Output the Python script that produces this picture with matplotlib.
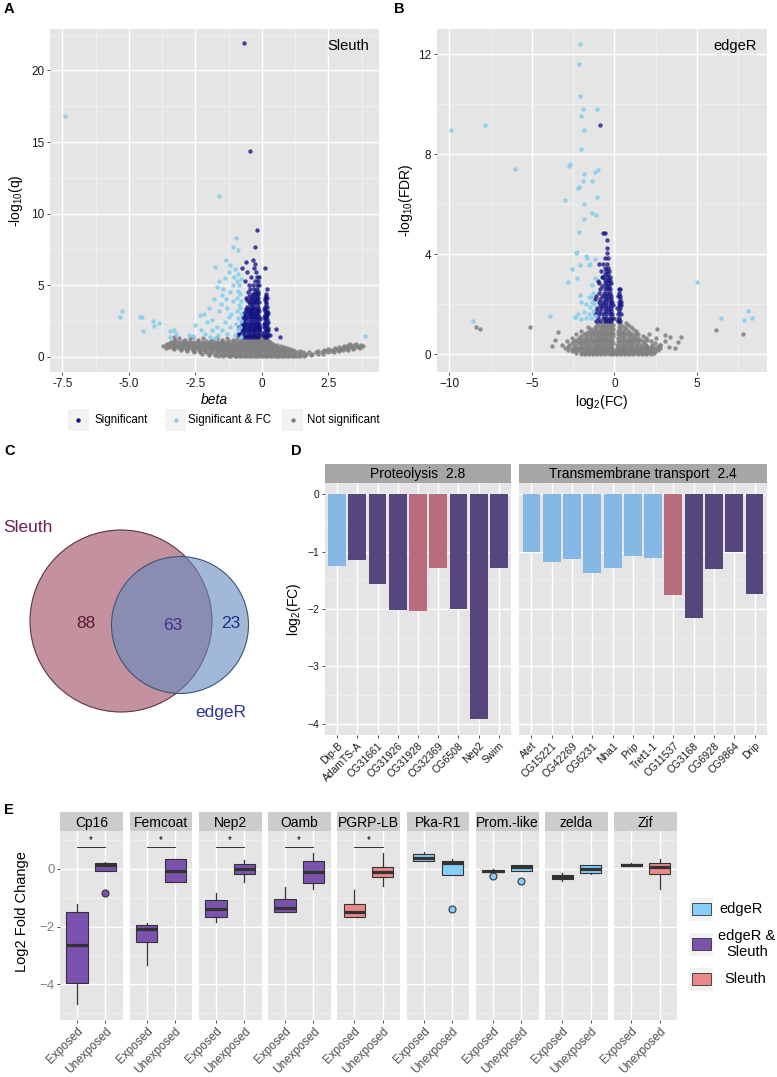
import matplotlib
matplotlib.use('Agg')
import matplotlib.pyplot as plt
from matplotlib.patches import Circle, Rectangle

plt.rcParams['font.family'] = ['Liberation Sans', 'DejaVu Sans']
plt.rcParams['mathtext.default'] = 'regular'

W, H = 777, 1077

# ---------------- panel A : sleuth volcano (beta, -log10 q) ----------------
sleuth_ns_levels = [0.02, 0.15, 0.3, 0.45, 0.6, 0.75, 0.9, 1.05, 1.2, 1.35, 1.5,
                    0.08, 0.22, 0.38, 0.52, 0.68, 0.82, 0.97, 1.12, 1.28, 1.42]
sleuth_ns_xrows = [
    [-1.25, -1.02, -0.85, -0.66, -0.48, -0.31, -0.14, 0.05, 0.21, 0.38, 0.57, 0.74, 0.93, 1.12, 1.31],
    [-2.0, -1.78, -1.55, -1.36, -1.14, -0.95, -0.77, -0.58, -0.4, -0.22, -0.05, 0.13, 0.3, 0.47, 0.66,
     0.84, 1.03, 1.22, 1.42, 1.63, 1.85],
    [-2.55, -2.33, -2.1, -1.9, -1.69, -1.47, -1.28, -1.07, -0.88, -0.69, -0.5, -0.33, -0.16, 0.02, 0.2,
     0.37, 0.55, 0.73, 0.92, 1.1, 1.33, 1.55, 1.78, 2.02, 2.25, 2.5, 2.7],
    [-3.05, -2.8, -2.6, -2.37, -2.17, -1.95, -1.73, -1.52, -1.3, -1.11, -0.91, -0.72, -0.55, -0.36, -0.19,
     0.0, 0.18, 0.35, 0.53, 0.74, 0.95, 1.17, 2.35, 2.6, 2.85, 3.05, 3.25],
    [-3.6, -3.35, -3.12, -2.9, -2.67, -2.45, -2.22, -2.0, -1.79, -1.57, -1.36, -1.15, -0.96, -0.77, -0.58,
     -0.4, -0.22, -0.03, 0.15, 0.33, 0.52, 0.72, 0.93, 2.75, 3.0, 3.2, 3.45, 3.7],
    [-3.7, -3.45, -3.2, -2.98, -2.75, -2.5, -2.28, -2.05, -1.83, -1.6, -1.4, -1.18, -0.98, -0.8, -0.62,
     -0.43, -0.25, -0.07, 0.12, 0.3, 0.5, 0.7, 3.1, 3.35, 3.6, 3.8],
    [-3.55, -3.3, -3.05, -2.8, -2.57, -2.33, -2.1, -1.85, -1.6, -1.38, -1.15, -0.92, -0.72, -0.52, -0.33,
     -0.15, 0.05, 0.22, 0.42, 3.3, 3.55],
    [-3.4, -3.1, -2.85, -2.55, -2.25, -1.95, -1.65, -1.35, -1.08, -0.85, -0.63, -0.43, -0.24, -0.06, 0.13, 0.3],
    [-3.25, -2.9, -2.4, -1.9, -1.5, -1.1, -0.8, -0.55, -0.35, -0.17, 0.02, 0.2],
    [-3.3, -2.6, -0.6, -0.4, -0.22, -0.05, 0.12],
    [-0.35, -0.15, 0.05],
    [-1.65, -1.45, -1.2, -0.98, -0.78, -0.58, -0.4, -0.22, -0.04, 0.14, 0.31, 0.48, 0.66, 0.84, 1.03, 1.22,
     1.42, 1.6],
    [-2.25, -2.0, -1.78, -1.57, -1.37, -1.17, -0.97, -0.78, -0.6, -0.42, -0.24, -0.06, 0.11, 0.28, 0.46,
     0.64, 0.83, 1.02, 1.22, 1.44, 1.66, 1.88, 2.12, 2.3],
    [-2.8, -2.56, -2.32, -2.1, -1.88, -1.66, -1.45, -1.24, -1.04, -0.84, -0.64, -0.45, -0.27, -0.09, 0.1,
     0.28, 0.46, 0.64, 0.83, 1.02, 1.22, 1.45, 2.1, 2.38, 2.62, 2.88],
    [-3.3, -3.05, -2.82, -2.58, -2.35, -2.12, -1.9, -1.68, -1.47, -1.26, -1.05, -0.86, -0.66, -0.47, -0.29,
     -0.1, 0.08, 0.26, 0.44, 0.63, 0.84, 1.05, 2.5, 2.75, 2.98, 3.2, 3.42],
    [-3.5, -3.25, -3.0, -2.78, -2.55, -2.32, -2.1, -1.88, -1.67, -1.46, -1.25, -1.05, -0.86, -0.68, -0.5,
     -0.31, -0.13, 0.06, 0.24, 0.42, 0.62, 0.82, 2.9, 3.12, 3.36, 3.6],
    [-3.62, -3.35, -3.1, -2.87, -2.63, -2.4, -2.17, -1.95, -1.72, -1.5, -1.28, -1.07, -0.88, -0.7, -0.52,
     -0.34, -0.16, 0.02, 0.2, 0.38, 0.58, 3.22, 3.46, 3.72],
    [-3.45, -3.2, -2.95, -2.7, -2.45, -2.2, -1.97, -1.73, -1.5, -1.27, -1.04, -0.82, -0.62, -0.42, -0.24,
     -0.06, 0.13, 0.32],
    [-3.3, -2.98, -2.7, -2.4, -2.1, -1.8, -1.5, -1.22, -0.96, -0.74, -0.53, -0.33, -0.15, 0.04, 0.22],
    [-3.1, -2.7, -2.2, -1.7, -1.3, -0.95, -0.7, -0.48, -0.28, -0.1, 0.1],
    [-0.5, -0.3, -0.12, 0.08],
]

sleuth_sig_levels = [1.4, 1.7, 2.0, 2.3, 2.6, 2.9, 3.2, 3.5, 3.8, 4.1, 4.4, 4.7, 5.0, 5.3, 5.6, 5.9, 6.2, 6.5,
                     1.55, 1.85, 2.15, 2.45, 2.75, 3.05, 3.35, 3.65, 3.95, 4.25, 4.55]
sleuth_sig_xrows = [
    [-0.72, -0.6, -0.48, -0.36, -0.25, -0.14, 0.1, 0.2],
    [-0.78, -0.66, -0.54, -0.42, -0.3, -0.19, -0.08, 0.08, 0.18],
    [-0.75, -0.63, -0.5, -0.38, -0.27, -0.15, -0.06, 0.12, 0.22],
    [-0.7, -0.58, -0.45, -0.33, -0.22, -0.1, 0.09, 0.19],
    [-0.67, -0.55, -0.42, -0.3, -0.18, -0.08, 0.13, 0.21],
    [-0.62, -0.5, -0.38, -0.26, -0.15, 0.1, 0.2],
    [-0.58, -0.45, -0.32, -0.2, -0.1, 0.12, 0.18],
    [-0.55, -0.4, -0.28, -0.16, 0.1, 0.2],
    [-0.5, -0.35, -0.22, -0.12, 0.14],
    [-0.6, -0.42, -0.27, -0.15, 0.11, 0.18],
    [-0.38, -0.24, -0.13, 0.15],
    [-0.45, -0.3, -0.18, 0.19],
    [-0.5, -0.33, -0.2, -0.12],
    [-0.62, -0.27, -0.15],
    [-0.4, -0.2, -0.1],
    [-0.55, -0.22],
    [-0.75, -0.3, 0.12],
    [-0.25],
    [-0.85, -0.69, -0.57, -0.44, -0.33, -0.21, -0.1, 0.06, 0.15, 0.24],
    [-0.72, -0.6, -0.47, -0.35, -0.24, -0.12, 0.14, 0.23],
    [-0.8, -0.68, -0.56, -0.43, -0.31, -0.2, -0.09, 0.07, 0.16],
    [-0.74, -0.62, -0.5, -0.38, -0.26, -0.14, 0.11, 0.22],
    [-0.7, -0.58, -0.46, -0.34, -0.22, -0.11, 0.08, 0.17],
    [-0.66, -0.54, -0.42, -0.3, -0.18, 0.14, 0.22],
    [-0.6, -0.48, -0.36, -0.24, -0.13, 0.09],
    [-0.45, -0.32, -0.19, 0.17],
    [-0.55, -0.4, -0.28, -0.17, 0.12],
    [-0.48, -0.33, -0.2, 0.16],
    [-0.52, -0.27, -0.14],
]
sleuth_sig_extra_x = [-0.69, -0.45, -0.2, -0.24, -0.6, -0.33, 0.54, 0.69, 0.3, -0.85, -0.9]
sleuth_sig_extra_y = [21.9, 14.4, 8.88, 7.65, 6.6, 6.75, 1.94, 1.36, 1.5, 2.1, 1.6]

sleuth_fc_x = [-2.31, -2.16, -2.05, -1.87, -2.57, -2.13, -1.89, -1.76, -1.95, -1.7, -1.6, -1.55, -1.5,
               -1.45, -1.6, -1.4, -1.35, -1.3, -1.25, -1.4, -1.5, -1.3, -1.2, -1.15, -1.1, -1.2, -1.1,
               -1.05, -1.25, -1.0, -0.95, -0.9, -0.95, -0.85, -0.95, -0.88, -0.98, -0.9, -1.0, -0.8,
               -0.82, -0.8, -0.78, -0.83, -0.8, -0.82, -0.85, -0.8, -0.9, -1.35, -1.76, -0.98, -1.08,
               -0.89, -1.6, -7.4, -5.24, -5.33, -4.58, -4.5, -4.1, -3.87, -4.04, -4.47, -3.44, -3.3,
               -3.22, -3.45, 3.88, -1.65, -2.3, -2.0, -1.8, -1.7, -1.2, -2.75, -2.5]
sleuth_fc_y = [2.9, 2.96, 2.4, 2.57, 1.45, 1.57, 1.87, 1.28, 1.35, 2.1, 3.2, 3.7, 4.3,
               4.7, 5.3, 5.5, 4.0, 3.4, 2.8, 2.4, 1.9, 1.6, 2.1, 3.0, 3.9, 4.5, 5.0,
               5.6, 5.9, 6.1, 5.3, 4.6, 4.1, 3.6, 3.2, 2.7, 2.3, 1.9, 1.5, 1.4,
               2.1, 2.5, 3.0, 3.4, 3.9, 4.4, 5.0, 5.4, 5.8, 6.74, 6.29, 8.32, 7.67,
               7.46, 11.26, 16.8, 3.2, 2.8, 2.75, 2.75, 2.5, 2.38, 2.15, 1.8, 1.8, 1.87,
               1.57, 1.36, 1.45, 1.5, 1.9, 3.4, 4.0, 4.9, 6.4, 1.5, 2.2]

# ---------------- panel B : edgeR volcano (log2FC, -log10 FDR) ----------------
edger_ns_levels = [0.0, 0.12, 0.25, 0.38, 0.52, 0.66, 0.8, 0.95, 1.1, 1.25,
                   0.06, 0.19, 0.31, 0.45, 0.59, 0.73, 0.87, 1.02, 1.17, 1.4]
edger_ns_xrows = [
    [-2.05, -1.8, -1.55, -1.3, -1.05, -0.8, -0.55, -0.3, -0.08, 0.15, 0.4, 0.65, 0.9, 1.15, 1.4, 1.65, 1.9, 2.2],
    [-2.6, -2.3, -2.0, -1.72, -1.45, -1.2, -0.95, -0.7, -0.45, -0.2, 0.1, 0.35, 0.6, 0.85, 1.1, 1.38,
     1.62, 1.9, 2.15, 2.45],
    [-3.0, -2.6, -2.25, -1.95, -1.65, -1.38, -1.12, -0.86, -0.6, -0.36, -0.12, 0.15, 0.4, 0.66, 0.92,
     1.2, 1.48, 1.75, 2.05, 2.4, 2.75],
    [-3.2, -2.75, -2.4, -2.05, -1.75, -1.47, -1.2, -0.95, -0.7, -0.45, -0.2, 0.18, 0.45, 0.72, 1.0,
     1.28, 1.58, 1.9, 2.3, 2.75],
    [-2.9, -2.45, -2.1, -1.8, -1.5, -1.25, -1.0, -0.75, -0.5, -0.25, 0.2, 0.48, 0.75, 1.05, 1.35, 1.7, 2.2, 3.05],
    [-2.6, -2.15, -1.8, -1.5, -1.2, -0.95, -0.7, -0.45, -0.2, 0.22, 0.5, 0.8, 1.1, 1.45, 1.9, 2.5],
    [-2.3, -1.85, -1.5, -1.2, -0.95, -0.7, -0.45, -0.2, 0.2, 0.45, 0.75, 1.05, 1.45, 2.1],
    [-2.0, -1.55, -1.25, -0.95, -0.7, -0.45, -0.2, 0.22, 0.5, 0.85, 1.3],
    [-1.6, -1.2, -0.9, -0.65, -0.4, -0.18, 0.25, 0.55, 1.0],
    [-1.0, -0.7, -0.45, -0.2, 0.3, 0.7],
    [-2.3, -1.92, -1.67, -1.42, -1.17, -0.92, -0.67, -0.42, -0.18, 0.03, 0.28, 0.52, 0.78, 1.02, 1.27,
     1.52, 1.78, 2.05, 2.4],
    [-2.8, -2.45, -2.15, -1.86, -1.58, -1.32, -1.07, -0.82, -0.57, -0.32, -0.07, 0.22, 0.48, 0.72, 0.98,
     1.25, 1.5, 1.76, 2.02, 2.3, 2.65],
    [-2.8, -2.42, -2.1, -1.8, -1.52, -1.25, -0.99, -0.73, -0.48, -0.24, 0.28, 0.53, 0.8, 1.06, 1.34,
     1.62, 1.9, 2.2, 2.55],
    [-2.55, -2.22, -1.9, -1.6, -1.33, -1.08, -0.82, -0.57, -0.32, -0.1, 0.3, 0.6, 0.88, 1.15, 1.45, 1.8, 2.45],
    [-2.35, -1.97, -1.65, -1.35, -1.1, -0.85, -0.6, -0.35, -0.12, 0.33, 0.62, 0.92, 1.25, 1.55, 2.0],
    [-2.0, -1.65, -1.35, -1.08, -0.82, -0.57, -0.33, -0.1, 0.32, 0.6, 0.92, 1.25, 1.7],
    [-1.75, -1.35, -1.08, -0.82, -0.57, -0.33, -0.1, 0.32, 0.6, 0.95, 1.3],
    [-1.4, -1.1, -0.8, -0.55, -0.3, -0.08, 0.35, 0.7, 1.1],
    [-1.05, -0.78, -0.52, -0.3, -0.08, 0.4, 0.8],
    [-0.6, -0.35, -0.12, 0.12],
]
edger_ns_extra_x = [-8.4, -8.16, -5.13, 6.14, 7.76, -3.62, -3.78, 3.05, 3.35, 4.02, 3.86, 3.65, 2.75,
                    1.94, -3.4, 2.6, 3.3]
edger_ns_extra_y = [1.08, 1.01, 1.08, 0.96, 0.8, 0.57, 0.33, 0.77, 0.7, 0.7, 0.5, 0.24, 0.37,
                    0.34, 0.9, 1.0, 0.3]

edger_sig_levels = [1.35, 1.6, 1.85, 2.1, 2.35, 2.6, 2.85, 3.1, 3.35, 3.6, 3.85, 4.04, 4.24, 4.57, 4.84,
                    1.47, 1.72, 1.97, 2.22, 2.47, 2.72, 2.97, 3.22, 3.47]
edger_sig_xrows = [
    [-1.1, -0.85, -0.6, -0.4, -0.2, 0.2, 0.35],
    [-1.2, -0.95, -0.7, -0.5, -0.3, -0.12, 0.22, 0.4],
    [-1.05, -0.8, -0.6, -0.4, -0.2, 0.18, 0.33],
    [-0.95, -0.7, -0.5, -0.3, -0.15, 0.25, 0.4],
    [-1.1, -0.75, -0.55, -0.38, -0.2, 0.2, 0.35],
    [-0.85, -0.6, -0.42, -0.25, 0.26, 0.36],
    [-0.95, -0.55, -0.4, -0.22],
    [-0.7, -0.48, -0.3],
    [-0.8, -0.5, -0.35],
    [-0.95, -0.69, -0.45],
    [-0.6, -0.4],
    [-0.44],
    [-0.44],
    [-0.48],
    [-0.59, -0.69],
    [-1.0, -0.72, -0.5, -0.3, -0.1, 0.28],
    [-1.1, -0.85, -0.6, -0.4, -0.2, 0.3],
    [-0.9, -0.7, -0.5, -0.3, -0.1, 0.26, 0.42],
    [-1.15, -0.85, -0.6, -0.4, -0.22, 0.32],
    [-0.95, -0.65, -0.47, -0.3, 0.3],
    [-0.75, -0.5, -0.33],
    [-0.6, -0.42, -0.25],
    [-0.55, -0.38],
    [-0.6, -0.4],
]
edger_sig_extra_x = [-0.87, -0.75, -1.0]
edger_sig_extra_y = [9.18, 3.1, 2.95]

edger_fc_x = [-9.88, -7.84, -6.0, -2.06, -2.16, -2.08, -1.92, -2.02, -1.07, -1.82, -2.04, -2.67, -2.73,
              -1.86, -1.17, -0.99, -1.88, -1.35, -2.18, -2.14, -2.97, -1.82, -1.07, -1.38, -1.13, -1.84,
              -2.16, -2.35, -2.26, -1.74, -1.66, -1.15, -2.06, -1.52, -1.47, -2.55, -2.24, -2.81, -1.15,
              -1.38, -2.06, -1.45, 5.01, 8.08, 6.48, 8.34, 7.84, -3.92, -8.56, -2.42,
              -2.4, -2.2, -2.0, -1.85, -1.7, -1.55, -1.4, -1.3, -1.5, -1.7, -1.35, -1.55, -1.3, -2.0,
              -1.2, -1.25]
edger_fc_y = [8.96, 9.16, 7.41, 12.42, 11.62, 10.32, 9.82, 9.52, 9.82, 8.98, 8.22, 7.6, 7.53,
              7.21, 7.3, 7.36, 6.93, 6.93, 6.64, 6.7, 6.18, 6.02, 6.29, 5.64, 5.57, 5.42,
              4.9, 4.04, 4.08, 3.94, 3.84, 3.8, 3.57, 3.57, 3.61, 3.4, 3.05, 2.88, 3.06,
              2.77, 2.36, 2.3, 2.88, 1.75, 1.45, 1.45, 1.37, 1.53, 1.34, 1.48,
              1.5, 1.6, 1.4, 1.7, 1.45, 1.6, 1.45, 1.75, 1.9, 2.0, 2.1, 2.3, 2.45, 2.1,
              1.55, 2.0]

# ---------------- panel C : venn counts ----------------
venn_counts = [88, 63, 23]   # sleuth only, both, edgeR only

# ---------------- panel D : GO term bars ----------------
proteo_genes = ['Dip-B', 'AdamTS-A', 'CG31661', 'CG31926', 'CG31928', 'CG32369', 'CG6508', 'Nep2', 'Swim']
proteo_fc = [-1.25, -1.15, -1.57, -2.01, -2.03, -1.28, -2.0, -3.92, -1.28]
proteo_grp = ['edgeR', 'both', 'both', 'both', 'sleuth', 'sleuth', 'both', 'both', 'both']
trans_genes = ['Atet', 'CG15221', 'CG42269', 'CG6231', 'Nha1', 'Prip', 'Tret1-1', 'CG11537', 'CG3168',
               'CG6928', 'CG9864', 'Drip']
trans_fc = [-1.0, -1.18, -1.13, -1.38, -1.29, -1.08, -1.11, -1.76, -2.15, -1.31, -1.0, -1.73]
trans_grp = ['edgeR'] * 7 + ['sleuth'] + ['both'] * 4

# ---------------- panel E : qPCR boxplots ----------------
e_genes = ['Cp16', 'Femcoat', 'Nep2', 'Oamb', 'PGRP-LB', 'Pka-R1', 'Prom.-like', 'zelda', 'Zif']
e_group = ['both', 'both', 'both', 'both', 'sleuth', 'edgeR', 'edgeR', 'edgeR', 'sleuth']
e_signif = [True, True, True, True, True, False, False, False, False]
exp_whishi = [-1.21, -1.89, -0.85, -0.64, -0.73, 0.58, 0.0, -0.13, 0.2]
exp_q3 = [-1.48, -1.95, -1.08, -1.05, -1.23, 0.51, -0.02, -0.21, 0.17]
exp_med = [-2.64, -2.1, -1.38, -1.36, -1.51, 0.38, -0.06, -0.28, 0.14]
exp_q1 = [-3.98, -2.53, -1.68, -1.51, -1.68, 0.27, -0.1, -0.35, 0.09]
exp_whislo = [-4.71, -3.34, -1.83, -1.51, -1.68, 0.27, -0.1, -0.41, 0.09]
exp_fliers = [[], [], [], [], [], [], [-0.24], [], []]
unx_whishi = [0.25, 0.33, 0.31, 0.55, 0.55, 0.35, 0.13, 0.15, 0.35]
unx_q3 = [0.2, 0.33, 0.17, 0.29, 0.06, 0.27, 0.13, 0.13, 0.2]
unx_med = [0.14, -0.06, 0.0, -0.1, -0.1, 0.22, 0.06, 0.0, 0.07]
unx_q1 = [-0.07, -0.46, -0.19, -0.5, -0.27, -0.22, -0.06, -0.14, -0.16]
unx_whislo = [-0.07, -0.46, -0.46, -0.71, -0.58, -0.22, -0.06, -0.19, -0.69]
unx_fliers = [[-0.85], [], [], [], [], [-1.4], [-0.41], [], []]
conditions = ['Exposed', 'Unexposed']

D_COLORS = {'edgeR': '#85B8E5', 'both': '#55467D', 'sleuth': '#B86C7C'}
E_COLORS = {'edgeR': '#87CEFA', 'both': '#7B52AE', 'sleuth': '#E8898A'}
NAVY, SKY, GREY = '#0B0B80', '#87CEEB', '#7F7F7F'


def expand_rows(levels, xrows):
    xs, ys = [], []
    for lev, row in zip(levels, xrows):
        xs += row
        ys += [lev] * len(row)
    return xs, ys


fig = plt.figure(figsize=(W / 100, H / 100), dpi=100)


def px_axes(l, t, r, b):
    return fig.add_axes([l / W, 1 - b / H, (r - l) / W, (b - t) / H])


def gg_style(ax, label_color='#1a1a1a', size=8.5):
    ax.set_facecolor('#E5E5E5')
    for s in ax.spines.values():
        s.set_visible(False)
    ax.set_axisbelow(True)
    ax.grid(True, which='major', color='white', lw=1.0)
    ax.grid(True, which='minor', color='#F2F2F2', lw=0.5)
    ax.tick_params(which='major', length=2.5, width=0.6, color='#333333',
                   labelsize=size, labelcolor=label_color, pad=1.5)
    ax.tick_params(which='minor', length=0)


# ---- A ----
axA = px_axes(50, 29, 379, 372)
gg_style(axA)
x, y = expand_rows(sleuth_ns_levels, sleuth_ns_xrows)
axA.scatter(x, y, s=10, color=GREY, alpha=0.85, lw=0)
x, y = expand_rows(sleuth_sig_levels, sleuth_sig_xrows)
axA.scatter(x + sleuth_sig_extra_x, y + sleuth_sig_extra_y, s=10, color=NAVY, alpha=0.75, lw=0)
axA.scatter(sleuth_fc_x, sleuth_fc_y, s=10, color=SKY, alpha=0.9, lw=0)
axA.set_xlim(-7.96, 4.4)
axA.set_ylim(-1.07, 22.9)
axA.set_xticks([-7.5, -5, -2.5, 0, 2.5])
axA.set_xticklabels(['-7.5', '-5.0', '-2.5', '0', '2.5'])
axA.set_xticks([-6.25, -3.75, -1.25, 1.25, 3.75], minor=True)
axA.set_yticks([0, 5, 10, 15, 20])
axA.set_yticks([2.5, 7.5, 12.5, 17.5, 22.5], minor=True)
axA.set_xlabel('beta', fontsize=10, style='italic')
axA.set_ylabel('-log$_{10}$(q)', fontsize=10)
axA.xaxis.set_label_coords(0.5, -0.062)
axA.yaxis.set_label_coords(-0.076, 0.5)
axA.text(0.97, 0.95, 'Sleuth', transform=axA.transAxes, ha='right', va='center', fontsize=10.5)

# ---- B ----
axB = px_axes(437, 29, 767, 372)
gg_style(axB)
x, y = expand_rows(edger_ns_levels, edger_ns_xrows)
axB.scatter(x + edger_ns_extra_x, y + edger_ns_extra_y, s=10, color=GREY, alpha=0.85, lw=0)
x, y = expand_rows(edger_sig_levels, edger_sig_xrows)
axB.scatter(x + edger_sig_extra_x, y + edger_sig_extra_y, s=10, color=NAVY, alpha=0.75, lw=0)
axB.scatter(edger_fc_x, edger_fc_y, s=10, color=SKY, alpha=0.9, lw=0)
axB.set_xlim(-10.75, 9.24)
axB.set_ylim(-0.7, 13.0)
axB.set_xticks([-10, -5, 0, 5])
axB.set_xticks([-7.5, -2.5, 2.5, 7.5], minor=True)
axB.set_yticks([0, 4, 8, 12])
axB.set_yticks([2, 6, 10], minor=True)
axB.set_xlabel('log$_2$(FC)', fontsize=10)
axB.set_ylabel('-log$_{10}$(FDR)', fontsize=10)
axB.xaxis.set_label_coords(0.5, -0.062)
axB.yaxis.set_label_coords(-0.067, 0.5)
axB.text(0.97, 0.95, 'edgeR', transform=axB.transAxes, ha='right', va='center', fontsize=10.5)

# ---- C : venn ----
axC = px_axes(0, 470, 290, 730)
axC.set_xlim(0, 290)
axC.set_ylim(260, 0)
axC.axis('off')
axC.add_patch(Circle((121, 151), 91, facecolor='#C4919F', edgecolor='#5E3444', lw=0.8))
axC.add_patch(Circle((180, 155), 68.5, facecolor='#658AC0', alpha=0.6, edgecolor='none'))
axC.add_patch(Circle((180, 155), 68.5, facecolor='none', edgecolor='#3C5675', lw=0.8))
axC.text(86, 153, str(venn_counts[0]), fontsize=12.5, color='#5A1A30', ha='center', va='center')
axC.text(173, 155, str(venn_counts[1]), fontsize=12.5, color='#4B2A8A', ha='center', va='center')
axC.text(231, 153, str(venn_counts[2]), fontsize=12.5, color='#1C2E80', ha='center', va='center')
axC.text(3, 57, 'Sleuth', fontsize=12.5, color='#6B1F57', ha='left', va='center')
axC.text(221, 242, 'edgeR', fontsize=12.5, color='#2A3590', ha='center', va='center')

# ---- D : bars ----
for (l, r), genes, fc, grp, title, first in [
        ((325, 511), proteo_genes, proteo_fc, proteo_grp, 'Proteolysis  2.8', True),
        ((519.3, 766.7), trans_genes, trans_fc, trans_grp, 'Transmembrane transport  2.4', False)]:
    ax = px_axes(l, 483, r, 735)
    gg_style(ax, label_color='#1a1a1a', size=7.5)
    pos = list(range(1, len(genes) + 1))
    ax.bar(pos, fc, width=0.88, color=[D_COLORS[g] for g in grp])
    ax.set_xlim(0.4, len(genes) + 0.6)
    ax.set_ylim(-4.2, 0.2)
    ax.set_xticks(pos)
    ax.set_xticklabels(genes, rotation=45, ha='right', rotation_mode='anchor', fontsize=7.5)
    ax.set_yticks([0, -1, -2, -3, -4])
    ax.set_yticks([-0.5, -1.5, -2.5, -3.5], minor=True)
    if first:
        ax.set_ylabel('log$_2$(FC)', fontsize=10)
        ax.yaxis.set_label_coords(-0.118, 0.5)
    else:
        ax.tick_params(axis='y', which='both', length=0, labelleft=False)
    st = px_axes(l, 464, r, 483)
    st.set_facecolor('#A6A6A6')
    st.set_xticks([])
    st.set_yticks([])
    for s in st.spines.values():
        s.set_visible(False)
    st.text(0.5, 0.45, title, transform=st.transAxes, ha='center', va='center', fontsize=10)

# ---- E : boxplots ----
e_lefts = [60, 129.7, 199, 268, 337.3, 406.7, 476, 545.3, 614.3]
for i, gene in enumerate(e_genes):
    l = e_lefts[i]
    ax = px_axes(l, 831, l + 62.5, 1020)
    gg_style(ax, label_color='#7F7F7F', size=9.5)
    c = E_COLORS[e_group[i]]
    stats = [
        dict(med=exp_med[i], q1=exp_q1[i], q3=exp_q3[i], whislo=exp_whislo[i], whishi=exp_whishi[i],
             fliers=exp_fliers[i]),
        dict(med=unx_med[i], q1=unx_q1[i], q3=unx_q3[i], whislo=unx_whislo[i], whishi=unx_whishi[i],
             fliers=unx_fliers[i]),
    ]
    ax.bxp(stats, positions=[1, 2], widths=0.75, patch_artist=True, showcaps=False,
           boxprops=dict(facecolor=c, edgecolor='#333333', linewidth=0.8),
           medianprops=dict(color='#333333', linewidth=2.3, solid_capstyle='butt'),
           whiskerprops=dict(color='#333333', linewidth=0.9),
           flierprops=dict(marker='o', markerfacecolor=c, markeredgecolor='#333333',
                           markersize=5, markeredgewidth=0.8))
    if e_signif[i]:
        ax.plot([1, 2], [0.78, 0.78], color='#333333', lw=0.7)
        ax.text(1.5, 0.84, '*', ha='center', va='bottom', fontsize=7)
    ax.set_xlim(0.4, 2.6)
    ax.set_ylim(-5.25, 1.32)
    ax.set_xticks([1, 2])
    ax.set_xticklabels(conditions, rotation=45, ha='right', rotation_mode='anchor',
                       fontsize=8.5, color='#4D4D4D')
    ax.set_yticks([0, -2, -4])
    ax.set_yticks([1, -1, -3, -5], minor=True)
    if i > 0:
        ax.tick_params(axis='y', which='both', length=0, labelleft=False)
    st = px_axes(l, 812.3, l + 62.5, 831)
    st.set_facecolor('#CCCCCC')
    st.set_xticks([])
    st.set_yticks([])
    for s in st.spines.values():
        s.set_visible(False)
    st.text(0.5, 0.45, gene, transform=st.transAxes, ha='center', va='center', fontsize=10)

# ---- overlay: letters, legends, E ylabel ----
ov = fig.add_axes([0, 0, 1, 1])
ov.set_xlim(0, W)
ov.set_ylim(H, 0)
ov.axis('off')
for letter, lx, ly in [('A', 4, 2), ('B', 394, 2), ('C', 4, 444), ('D', 291, 444), ('E', 4, 803)]:
    ov.text(lx, ly, letter, fontsize=10.5, fontweight='bold', ha='left', va='top')

leg_items = [(NAVY, 'Significant', 78.3, 94.3), (SKY, 'Significant & FC', 175.7, 188.3),
             (GREY, 'Not significant', 292.7, 307.3)]
for col, lab, kx, tx in leg_items:
    ov.add_patch(Rectangle((kx - 10.5, 409), 21, 22, facecolor='#F2F2F2', edgecolor='none'))
    ov.scatter([kx], [420], s=10, color=col, lw=0)
    ov.text(tx, 420, lab, fontsize=8.3, ha='left', va='center')

ov.text(22, 912, 'Log2 Fold Change', rotation=90, fontsize=10.5, ha='center', va='center')
for grp, lab, ky in [('edgeR', 'edgeR', 909), ('both', 'edgeR &\nSleuth', 944), ('sleuth', 'Sleuth', 979)]:
    ov.add_patch(Rectangle((689.3, ky - 11.5), 24, 23, facecolor='#F2F2F2', edgecolor='none'))
    ov.add_patch(Rectangle((691.7, ky - 6), 19, 12, facecolor=E_COLORS[grp], edgecolor='#333333', lw=0.6))
    if '\n' in lab:
        ov.text(747, ky, lab, fontsize=10.5, ha='center', va='center', multialignment='center')
    else:
        ov.text(719.5 if grp == 'edgeR' else 724, ky, lab, fontsize=10.5, ha='left', va='center')

fig.savefig('out.png', dpi=100)
